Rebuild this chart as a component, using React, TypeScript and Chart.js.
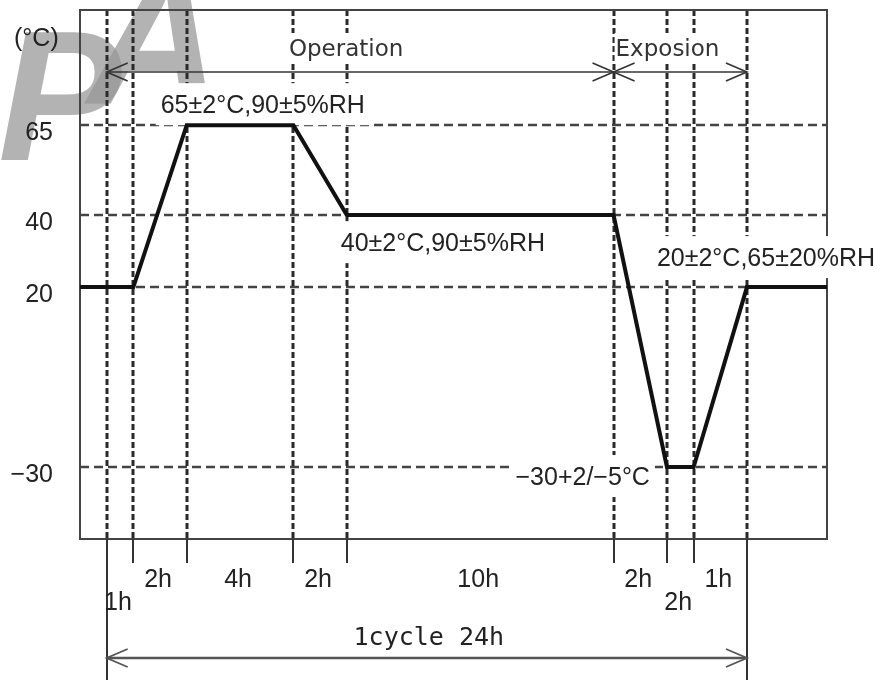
import React, { useEffect, useRef } from "react";
import { Chart, registerables } from "chart.js";

Chart.register(...registerables);

// ---- data ----
const hours = [-1, 1, 3, 7, 9, 19, 21, 22, 24, 27];
const temps = [20, 20, 65, 65, 40, 40, -30, -30, 20, 20];
const tempTicks = [65, 40, 20, -30];
const tickLabels = ["65", "40", "20", "−30"];
const unitLabel = "(°C)";
const phaseBounds = [0, 1, 3, 7, 9, 19, 21, 22, 24];
const durationLabels = ["1h", "2h", "4h", "2h", "10h", "2h", "2h", "1h"];
const phaseNames = ["Operation", "Exposion"];
const phaseStarts = [0, 19];
const phaseEnds = [19, 24];
const cycleLabel = "1cycle 24h";
const conditionLabels = ["65±2°C,90±5%RH", "40±2°C,90±5%RH", "20±2°C,65±20%RH", "−30+2/−5°C"];
const conditionHours = [3, 9, 21, 21];
const conditionTemps = [65, 40, 20, -30];

const LABEL_FONT = "25px 'Liberation Sans', Arial, sans-serif";
const PHASE_FONT = "23px 'DejaVu Sans', sans-serif";
const CYCLE_FONT = "25px 'DejaVu Sans Mono', 'Liberation Mono', monospace";
const TEXT = "#222";

function line(ctx: CanvasRenderingContext2D, x1: number, y1: number, x2: number, y2: number) {
  ctx.beginPath();
  ctx.moveTo(x1, y1);
  ctx.lineTo(x2, y2);
  ctx.stroke();
}

function arrowHead(ctx: CanvasRenderingContext2D, tipX: number, y: number, dir: number) {
  ctx.beginPath();
  ctx.moveTo(tipX - dir * 21, y - 9);
  ctx.lineTo(tipX, y);
  ctx.lineTo(tipX - dir * 21, y + 9);
  ctx.stroke();
}

function conditionBox(chart: any, i: number, ctx: CanvasRenderingContext2D) {
  const { x, y } = chart.scales;
  const ax = x.getPixelForValue(conditionHours[i]);
  const ay = y.getPixelForValue(conditionTemps[i]);
  ctx.font = LABEL_FONT;
  const w = ctx.measureText(conditionLabels[i]).width;
  let left = 0;
  let cy = 0;
  if (i === 0) { left = ax - 26; cy = ay - 21; }
  if (i === 1) { left = ax - 6; cy = ay + 27; }
  if (i === 2) { left = ax - 10; cy = ay - 30; }
  if (i === 3) { left = ax - 17 - w; cy = ay + 9; }
  return { left, cy, w };
}

function phaseBox(chart: any, i: number, ctx: CanvasRenderingContext2D) {
  const { x } = chart.scales;
  const a = chart.chartArea;
  ctx.font = PHASE_FONT;
  const w = ctx.measureText(phaseNames[i]).width;
  let left = 0;
  if (i === 0) left = (x.getPixelForValue(phaseStarts[0]) + x.getPixelForValue(phaseEnds[0])) / 2 - w / 2 - 14;
  if (i === 1) left = x.getPixelForValue(phaseStarts[1]) + 2;
  return { left, cy: a.top + 38, w };
}

const diagramPlugin = {
  id: "diagram",
  beforeDraw(chart: any) {
    const ctx: CanvasRenderingContext2D = chart.ctx;
    ctx.save();
    ctx.fillStyle = "#fff";
    ctx.fillRect(0, 0, chart.width, chart.height);
    // faint watermark
    ctx.fillStyle = "rgba(150,150,150,0.72)";
    ctx.font = "italic bold 185px 'Liberation Sans', Arial, sans-serif";
    ctx.textBaseline = "alphabetic";
    ctx.textAlign = "left";
    ctx.fillText("P", -2, 160);
    ctx.fillText("A", 88, 104);
    ctx.restore();
  },
  beforeDatasetsDraw(chart: any) {
    const ctx: CanvasRenderingContext2D = chart.ctx;
    const a = chart.chartArea;
    const { x, y } = chart.scales;
    ctx.save();
    ctx.strokeStyle = "#444";
    ctx.lineWidth = 2.5;
    ctx.setLineDash([9, 5]);
    tempTicks.forEach((t) => {
      const py = Math.round(y.getPixelForValue(t));
      line(ctx, a.left, py, a.right, py);
    });
    ctx.strokeStyle = "#2a2a2a";
    ctx.lineWidth = 3;
    ctx.setLineDash([6, 3]);
    phaseBounds.forEach((h) => {
      const px = Math.round(x.getPixelForValue(h));
      line(ctx, px, a.top, px, a.bottom);
    });
    ctx.setLineDash([]);
    ctx.strokeStyle = "#444";
    ctx.lineWidth = 2;
    ctx.strokeRect(a.left, a.top, a.right - a.left, a.bottom - a.top);
    ctx.fillStyle = "#fff";
    for (let i = 0; i < conditionLabels.length; i++) {
      const b = conditionBox(chart, i, ctx);
      ctx.fillRect(b.left - 5, b.cy - 21, b.w + 10, 42);
    }
    for (let i = 0; i < phaseNames.length; i++) {
      const b = phaseBox(chart, i, ctx);
      ctx.fillRect(b.left - 1, b.cy - 15, b.w + 2, 30);
    }
    ctx.restore();
  },
  afterDatasetsDraw(chart: any) {
    const ctx: CanvasRenderingContext2D = chart.ctx;
    const a = chart.chartArea;
    const { x, y } = chart.scales;
    ctx.save();
    ctx.fillStyle = TEXT;
    ctx.textBaseline = "alphabetic";

    ctx.font = LABEL_FONT;
    ctx.textAlign = "right";
    tempTicks.forEach((t, i) => {
      const py = y.getPixelForValue(t);
      ctx.fillText(tickLabels[i], a.left - 27, py + 6 + 9);
    });
    ctx.textAlign = "left";
    ctx.fillText(unitLabel, 14, 46);

    for (let i = 0; i < conditionLabels.length; i++) {
      const b = conditionBox(chart, i, ctx);
      ctx.font = LABEL_FONT;
      ctx.textAlign = "left";
      ctx.fillText(conditionLabels[i], b.left, b.cy + 9);
    }

    for (let i = 0; i < phaseNames.length; i++) {
      const b = phaseBox(chart, i, ctx);
      ctx.font = PHASE_FONT;
      ctx.textAlign = "left";
      ctx.fillStyle = "#333";
      ctx.fillText(phaseNames[i], b.left, b.cy + 8);
    }

    ctx.strokeStyle = "#333";
    ctx.lineWidth = 1.6;
    const ay = a.top + 62;
    for (let i = 0; i < phaseNames.length; i++) {
      const x1 = x.getPixelForValue(phaseStarts[i]);
      const x2 = x.getPixelForValue(phaseEnds[i]);
      line(ctx, x1, ay, x2, ay);
      arrowHead(ctx, x1, ay, -1);
      arrowHead(ctx, x2, ay, 1);
    }

    ctx.strokeStyle = "#333";
    ctx.lineWidth = 2;
    phaseBounds.forEach((h, i) => {
      const px = Math.round(x.getPixelForValue(h));
      const end = i === 0 || i === phaseBounds.length - 1 ? chart.height : a.bottom + 24;
      line(ctx, px, a.bottom, px, end);
    });

    ctx.fillStyle = TEXT;
    ctx.font = LABEL_FONT;
    ctx.textAlign = "center";
    for (let i = 0; i < durationLabels.length; i++) {
      const x1 = x.getPixelForValue(phaseBounds[i]);
      const x2 = x.getPixelForValue(phaseBounds[i + 1]);
      const narrow = x2 - x1 < 35;
      const cy = narrow ? a.bottom + 62 : a.bottom + 39;
      ctx.fillText(durationLabels[i], (x1 + x2) / 2 - 2, cy + 9);
    }

    const cx1 = x.getPixelForValue(phaseBounds[0]);
    const cx2 = x.getPixelForValue(phaseBounds[phaseBounds.length - 1]);
    const cyA = a.bottom + 119;
    ctx.strokeStyle = "#555";
    ctx.lineWidth = 2.4;
    line(ctx, cx1, cyA, cx2, cyA);
    ctx.lineWidth = 1.8;
    arrowHead(ctx, cx1, cyA, -1);
    arrowHead(ctx, cx2, cyA, 1);
    ctx.font = CYCLE_FONT;
    ctx.textAlign = "center";
    ctx.fillStyle = TEXT;
    ctx.fillText(cycleLabel, (cx1 + cx2) / 2 + 2, a.bottom + 97 + 9);

    ctx.restore();
  },
};

export default function App() {
  const ref = useRef<HTMLCanvasElement>(null);
  useEffect(() => {
    if (!ref.current) return;
    const chart = new Chart(ref.current, {
      type: "line",
      data: {
        datasets: [
          {
            data: hours.map((h, i) => ({ x: h, y: temps[i] })),
            borderColor: "#111",
            borderWidth: 4,
            pointRadius: 0,
            tension: 0,
            fill: false,
          },
        ],
      },
      options: {
        animation: false,
        responsive: false,
        devicePixelRatio: 1,
        events: [],
        layout: { padding: { left: 80, top: 10, right: 55, bottom: 141 } },
        scales: {
          x: { type: "linear", min: -1, max: 27, display: false },
          y: { type: "linear", min: -50, max: 97, display: false },
        },
        plugins: {
          legend: { display: false },
          tooltip: { enabled: false },
          title: { display: false },
        },
      },
      plugins: [diagramPlugin],
    } as any);
    return () => chart.destroy();
  }, []);
  return (
    <div style={{ position: "absolute", left: 0, top: 0, width: 882, height: 680, background: "#fff" }}>
      <canvas ref={ref} width={882} height={680} style={{ display: "block" }} />
    </div>
  );
}
